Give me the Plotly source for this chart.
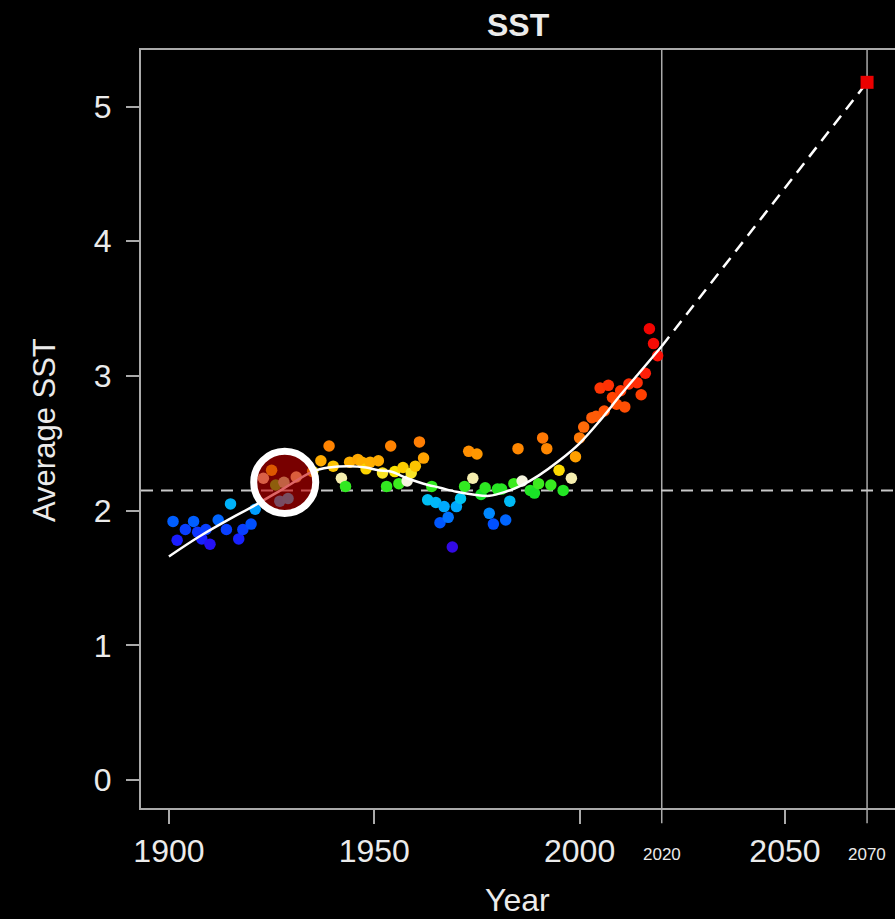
import plotly.graph_objects as go

# ---------------- data ----------------
years = [1901, 1902, 1904, 1906, 1907, 1908, 1909, 1910, 1912, 1914, 1915, 1917, 1918, 1920, 1921,
         1923, 1925, 1926, 1927, 1928, 1929, 1931,
         1935, 1937, 1939, 1940, 1942, 1943, 1944, 1946, 1947, 1948, 1949, 1951, 1952, 1953, 1954,
         1955, 1956, 1957, 1958, 1959, 1960, 1961, 1962,
         1963, 1964, 1965, 1966, 1967, 1968, 1969, 1970, 1971, 1972, 1973, 1974, 1975, 1976, 1977,
         1978, 1979, 1980, 1981, 1982, 1983, 1984, 1985, 1986, 1988, 1989, 1990, 1991, 1992, 1993,
         1995, 1996, 1998, 1999,
         2000, 2001, 2003, 2004, 2005, 2006, 2007, 2008, 2009, 2010, 2011, 2012, 2014, 2015, 2016,
         2017, 2018, 2019]
sst = [1.92, 1.78, 1.86, 1.92, 1.84, 1.79, 1.86, 1.75, 1.93, 1.86, 2.05, 1.79, 1.86, 1.90, 2.01,
       2.24, 2.30, 2.19, 2.07, 2.21, 2.09, 2.25,
       2.29, 2.37, 2.48, 2.33, 2.24, 2.18, 2.36, 2.38, 2.36, 2.31, 2.36, 2.37, 2.28, 2.18, 2.48,
       2.29, 2.20, 2.32, 2.22, 2.28, 2.33, 2.51, 2.39,
       2.08, 2.18, 2.06, 1.91, 2.03, 1.95, 1.73, 2.03, 2.09, 2.18, 2.44, 2.24, 2.42, 2.12, 2.17,
       1.98, 1.90, 2.16, 2.16, 1.93, 2.07, 2.20, 2.46, 2.22, 2.15, 2.13, 2.20, 2.54, 2.46, 2.19,
       2.30, 2.15, 2.24, 2.40,
       2.54, 2.62, 2.69, 2.70, 2.91, 2.74, 2.93, 2.84, 2.79, 2.89, 2.77, 2.94, 2.95, 2.86, 3.02,
       3.35, 3.24, 3.15]

# smoothed trend
trend_years = [1900, 1907.5, 1915.5, 1920.4, 1927.7, 1935, 1939, 1944, 1948, 1951, 1954, 1958,
               1962, 1966, 1970, 1974, 1978, 1982, 1986, 1990, 1995, 2000, 2005, 2010,
               2015, 2020]
trend_vals = [1.66, 1.81, 1.95, 2.03, 2.16, 2.29, 2.32, 2.33, 2.32, 2.30, 2.29, 2.24,
              2.20, 2.17, 2.14, 2.12, 2.11, 2.14, 2.19, 2.26, 2.37, 2.50, 2.67, 2.86,
              3.04, 3.22]

proj_years = [2020, 2070]
proj_vals = [3.22, 5.18]

baseline = 2.15
marker_years = [2020, 2070]

x_tick_vals = [1900, 1950, 2000, 2050]
x_tick_text = ["1900", "1950", "2000", "2050"]
y_tick_vals = [0, 1, 2, 3, 4, 5]
y_tick_text = ["0", "1", "2", "3", "4", "5"]

highlight_year, highlight_val = 1928.2, 2.21

# ---------------- style ----------------
FONT = "Liberation Sans, Arial, Helvetica, sans-serif"
TXT = "rgb(235,235,235)"
AXC = "rgb(170,170,170)"
CMIN, CMAX = 1.70, 3.40
stops = [
    (1.70, "rgb(70,0,200)"), (1.76, "rgb(30,20,255)"), (1.90, "rgb(0,80,255)"),
    (2.02, "rgb(0,165,255)"), (2.10, "rgb(0,200,240)"), (2.12, "rgb(20,225,40)"),
    (2.20, "rgb(60,235,30)"), (2.215, "rgb(245,245,235)"), (2.25, "rgb(245,235,150)"),
    (2.29, "rgb(250,225,0)"), (2.36, "rgb(255,175,0)"), (2.46, "rgb(255,135,0)"),
    (2.65, "rgb(255,100,10)"), (2.85, "rgb(255,65,0)"), (3.05, "rgb(255,25,10)"),
    (3.40, "rgb(240,0,0)"),
]
colorscale = [[(v - CMIN) / (CMAX - CMIN), c] for v, c in stops]

fig = go.Figure()

fig.add_trace(go.Scatter(
    x=years, y=sst, mode="markers",
    marker=dict(size=11.5, color=sst, colorscale=colorscale, cmin=CMIN, cmax=CMAX),
    showlegend=False, hoverinfo="x+y"))

fig.add_trace(go.Scatter(
    x=trend_years, y=trend_vals, mode="lines",
    line=dict(color="white", width=2.5, shape="spline", smoothing=1.0),
    showlegend=False))

fig.add_trace(go.Scatter(
    x=proj_years, y=proj_vals, mode="lines",
    line=dict(color="white", width=2.5, dash="12px,8px"),
    showlegend=False))

fig.add_trace(go.Scatter(
    x=[proj_years[-1]], y=[proj_vals[-1]], mode="markers",
    marker=dict(symbol="square", size=13, color="rgb(235,0,0)"),
    showlegend=False))

shapes = []
for yr in marker_years:
    shapes.append(dict(type="line", xref="x", yref="paper", x0=yr, x1=yr, y0=-0.02, y1=1,
                       line=dict(color=AXC, width=1.5), layer="below"))
shapes.append(dict(type="line", xref="paper", yref="y", x0=0, x1=1, y0=baseline, y1=baseline,
                   line=dict(color="rgb(200,200,200)", width=2, dash="12px,8px"), layer="below"))
rx, ry = 31 / 4.106, 31 / 134.4
shapes.append(dict(type="circle", xref="x", yref="y",
                   x0=highlight_year - rx, x1=highlight_year + rx,
                   y0=highlight_val - ry, y1=highlight_val + ry,
                   fillcolor="rgba(200,0,0,0.6)", line=dict(color="white", width=7), layer="above"))

annotations = [
    dict(text="<b>SST</b>", x=0.5, y=1.033, xref="paper", yref="paper", showarrow=False,
         font=dict(size=32, color=TXT, family=FONT), xanchor="center", yanchor="middle"),
    dict(text="Year", x=0.4987, y=-0.1214, xref="paper", yref="paper", showarrow=False,
         font=dict(size=32, color=TXT, family=FONT), xanchor="center", yanchor="middle"),
    dict(text="Average SST", x=-0.1273, y=0.4987, xref="paper", yref="paper", showarrow=False,
         textangle=-90, font=dict(size=31, color=TXT, family=FONT),
         xanchor="center", yanchor="middle"),
]
for yr in marker_years:
    annotations.append(dict(text=str(yr), x=yr, y=-0.062, xref="x", yref="paper",
                            showarrow=False, font=dict(size=17, color=TXT, family=FONT),
                            xanchor="center", yanchor="middle"))

fig.update_layout(
    width=895, height=919,
    margin=dict(l=141, r=0, t=50, b=111, autoexpand=False),
    paper_bgcolor="black", plot_bgcolor="black",
    font=dict(family=FONT, color=TXT),
    shapes=shapes, annotations=annotations,
    showlegend=False,
)
fig.update_xaxes(range=[1893.2, 2076.8], showgrid=False, zeroline=False,
                 showline=True, mirror=True, linecolor=AXC, linewidth=2,
                 ticks="outside", ticklen=14, tickwidth=2, tickcolor=AXC,
                 tickvals=x_tick_vals, ticktext=x_tick_text,
                 tickfont=dict(size=32, color=TXT, family=FONT), ticklabelstandoff=0)
fig.update_yaxes(range=[-0.208, 5.42], showgrid=False, zeroline=False,
                 showline=True, linecolor=AXC, linewidth=2,
                 ticks="outside", ticklen=13, tickwidth=2, tickcolor=AXC,
                 tickvals=y_tick_vals, ticktext=y_tick_text,
                 tickfont=dict(size=32, color=TXT, family=FONT), ticklabelstandoff=8)

fig.write_html(
    "out.html",
    config={"displayModeBar": False},
    post_script="document.body.style.margin='0';document.body.style.background='black';"
                "document.body.style.overflow='hidden';",
)
